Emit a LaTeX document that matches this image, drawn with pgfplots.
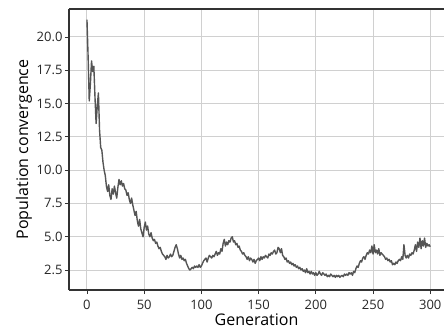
\documentclass[border=0pt]{standalone}
\usepackage{fontspec}
\setmainfont{Open Sans}
\usepackage{pgfplots}
\usepackage{pgfplotstable}
\pgfplotsset{compat=1.18}
\pgfplotstableread[header=false,row sep=\\]{
21.3\\18.5\\15.2\\16.5\\18.2\\17.4\\17.8\\15.5\\13.5\\14.8\\
15.8\\13.0\\11.7\\11.5\\10.6\\10.0\\9.6\\8.8\\8.4\\8.9\\
8.1\\7.8\\8.6\\8.2\\8.8\\8.3\\7.9\\8.7\\9.3\\8.9\\
9.2\\8.8\\9.0\\8.6\\8.5\\8.1\\8.3\\7.8\\7.5\\7.9\\
7.4\\7.0\\6.6\\6.9\\6.2\\5.8\\6.3\\5.6\\5.3\\5.0\\
5.7\\6.1\\5.5\\5.8\\5.2\\5.0\\5.3\\4.9\\4.7\\4.8\\
4.5\\4.6\\4.3\\4.1\\4.2\\3.9\\3.7\\3.6\\3.5\\3.3\\
3.6\\3.4\\3.5\\3.7\\3.5\\3.6\\3.9\\4.2\\4.4\\4.1\\
3.7\\3.4\\3.6\\3.3\\3.4\\3.2\\3.3\\3.0\\2.8\\2.6\\
2.5\\2.6\\2.7\\2.6\\2.8\\2.7\\2.8\\2.7\\2.9\\2.7\\
2.8\\3.0\\3.2\\3.3\\3.4\\3.1\\3.4\\3.6\\3.5\\3.4\\
3.6\\3.5\\3.7\\3.9\\3.6\\3.8\\3.7\\4.1\\3.9\\4.5\\
4.8\\4.3\\4.6\\4.4\\4.7\\4.6\\4.9\\5.0\\4.6\\4.7\\
4.4\\4.5\\4.2\\4.3\\4.0\\3.9\\3.7\\3.8\\3.6\\3.5\\
3.3\\3.5\\3.2\\3.4\\3.3\\3.1\\3.3\\3.0\\3.2\\3.3\\
3.4\\3.2\\3.5\\3.3\\3.5\\3.4\\3.6\\3.5\\3.4\\3.7\\
3.6\\3.8\\3.7\\3.9\\4.0\\3.7\\3.8\\4.2\\4.1\\3.8\\
4.1\\3.6\\3.5\\3.3\\3.4\\3.1\\3.2\\3.0\\3.1\\2.9\\
3.0\\2.8\\2.9\\2.7\\2.8\\2.6\\2.7\\2.5\\2.6\\2.4\\
2.5\\2.3\\2.6\\2.3\\2.4\\2.2\\2.4\\2.2\\2.3\\2.1\\
2.3\\2.1\\2.2\\2.4\\2.2\\2.1\\2.3\\2.2\\2.1\\2.2\\
2.0\\2.1\\2.0\\2.2\\2.1\\2.0\\2.1\\1.95\\2.1\\2.0\\
2.1\\1.95\\2.05\\2.1\\2.0\\2.2\\2.1\\2.2\\2.1\\2.3\\
2.2\\2.3\\2.1\\2.4\\2.3\\2.6\\2.8\\2.7\\3.0\\3.2\\
3.1\\3.4\\3.5\\3.3\\3.6\\3.8\\3.7\\4.0\\3.8\\4.3\\
3.7\\4.4\\3.8\\4.0\\3.7\\4.1\\3.6\\3.8\\3.7\\3.6\\
3.5\\3.3\\3.4\\3.2\\3.3\\3.1\\3.2\\2.9\\3.0\\2.9\\
3.1\\3.0\\3.2\\3.3\\3.2\\3.5\\3.3\\4.4\\3.6\\3.4\\
3.6\\3.4\\3.7\\3.6\\3.8\\3.7\\4.0\\4.4\\3.9\\4.6\\
4.2\\4.9\\4.1\\4.7\\4.3\\4.9\\4.2\\4.5\\4.3\\4.4\\
4.25\\
}\conv
\definecolor{gridc}{HTML}{D0D0D0}
\definecolor{linec}{HTML}{555555}
\definecolor{spinec}{HTML}{333333}
\begin{document}
\begin{tikzpicture}
\begin{axis}[
  at={(0,0)}, anchor=south west,
  scale only axis,
  width=375bp, height=281bp,
  xmin=-15.7, xmax=312,
  ymin=1.0, ymax=22.1,
  axis x line*=box, axis y line*=left,
  axis line style={spinec, line width=1.1bp},
  xtick={0,50,...,300},
  ytick={2.5,5,...,20},
  grid=major,
  major grid style={gridc, line width=1bp},
  tick style={spinec, line width=0.8bp},
  major tick length=4bp,
  tick align=outside,
  xtick pos=bottom, ytick pos=left,
  /pgf/number format/assume math mode=true,
  y tick label style={/pgf/number format/fixed, /pgf/number format/fixed zerofill, /pgf/number format/precision=1},
  ticklabel style={font=\fontsize{13bp}{15bp}\selectfont, text=black!85},
  xticklabel style={yshift=-3bp},
  yticklabel style={xshift=1bp},
  xlabel={Generation},
  ylabel={Population convergence},
  label style={font=\fontsize{16bp}{19bp}\selectfont},
  xlabel style={inner sep=0pt, yshift=-0.5bp},
  ylabel style={yshift=-2bp},
]
\addplot[linec, line width=1.4bp, line join=round] table[x expr=\coordindex, y index=0] {\conv};
\end{axis}
\pgfresetboundingbox
\path[use as bounding box] (-69bp,-39bp) rectangle (375bp,290bp);
\end{tikzpicture}
\end{document}
